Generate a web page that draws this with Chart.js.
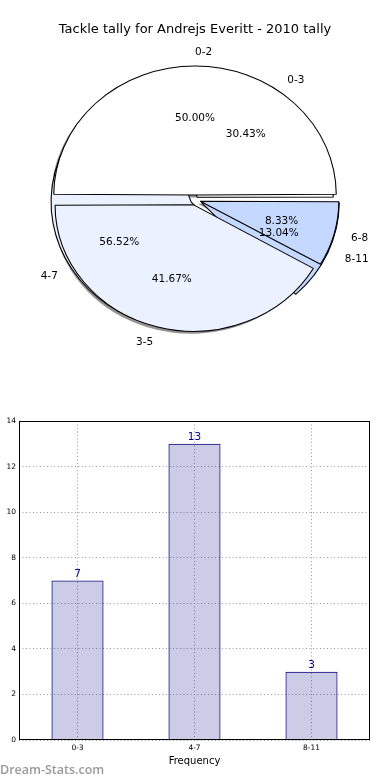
<!DOCTYPE html>
<html>
<head>
<meta charset="utf-8">
<script src="https://cdn.jsdelivr.net/npm/chart.js@4/dist/chart.umd.min.js"></script>
<style>
  body { margin: 0; background: #fff; }
  #wrap { position: relative; width: 390px; height: 780px; overflow: hidden; }
  canvas { position: absolute; left: 0; }
  #pieB, #pieA { top: 0; }
  #bars { top: 400px; }
  #mark { position: absolute; left: 0; top: 761px; font: 600 12.5px "Open Sans", sans-serif; color: #9a9a9a; }
</style>
</head>
<body>
<div id="wrap">
  <canvas id="pieB" width="390" height="400"></canvas>
  <canvas id="pieA" width="390" height="400"></canvas>
  <canvas id="bars" width="390" height="380"></canvas>
  <div id="mark">Dream-Stats.com</div>
</div>
<script>
let title = "Tackle tally for Andrejs Everitt - 2010 tally";

// pie drawn on top
let pieLabelsA = ["0-2", "3-5", "6-8"];
let pieValuesA = [6, 5, 1];

// pie drawn underneath, same numbers as the bars
let pieLabelsB = ["0-3", "4-7", "8-11"];
let pieValuesB = [7, 13, 3];

let barLabels = ["0-3", "4-7", "8-11"];
let barValues = [7, 13, 3];
let yTicks = [0, 2, 4, 6, 8, 10, 12, 14];

let sliceColors = ["#ffffff", "#ebf1ff", "#c5d8ff"];
let stretch = 1.095;   // pie is a bit wider than tall
let font = "'DejaVu Sans', sans-serif";

let pieA;
let pieB;

// chart.js goes clockwise from the top, matplotlib went anticlockwise from 3 o'clock
function rev(arr){
    return arr.slice().reverse();
}

function pieConfig(labels, values, offsets, plugins){
    return {
        type: "pie",
        data: {
            labels: rev(labels),
            datasets: [{
                data: rev(values),
                backgroundColor: rev(sliceColors),
                borderColor: "#000",
                borderWidth: 1,
                offset: rev(offsets),
                radius: 124
            }]
        },
        options: {
            responsive: false,
            animation: false,
            events: [],
            rotation: 90,
            layout: { padding: 0 },
            plugins: { legend: { display: false }, tooltip: { enabled: false } }
        },
        plugins: plugins
    };
}

let stretchPlugin = {
    id: "stretch",
    beforeDatasetsDraw(chart){
        let ctx = chart.ctx;
        let a = chart.chartArea;
        let cx = (a.left + a.right) / 2;
        ctx.save();
        ctx.translate(cx, 0);
        ctx.scale(stretch, 1);
        ctx.translate(-cx, 0);
    },
    afterDatasetsDraw(chart){
        chart.ctx.restore();
    }
};

// shadows of both pies sit under every wedge
let shadowPlugin = {
    id: "shadow",
    beforeDatasetsDraw(chart){
        let ctx = chart.ctx;
        [pieB, pieA].forEach(function(c){
            if(!c) return;
            c.getDatasetMeta(0).data.forEach(function(arc){
                let half = (arc.startAngle + arc.endAngle) / 2;
                let t = (arc.options.offset || 0) / 4;
                // chart.js grows big slices a little when they are offset
                let r = arc.outerRadius + t * (1 - Math.sin(Math.min(Math.PI, arc.circumference)));
                let x = arc.x + Math.cos(half) * t - 2.6 / stretch;
                let y = arc.y + Math.sin(half) * t + 2.4;
                ctx.beginPath();
                ctx.moveTo(x, y);
                ctx.arc(x, y, r, arc.startAngle, arc.endAngle);
                ctx.closePath();
                ctx.fillStyle = "rgba(40,40,40,0.5)";
                ctx.fill();
            });
        });
    }
};

function drawPieText(ctx, c, labels, values){
    let meta = c.getDatasetMeta(0);
    let total = values.reduce((s, v) => s + v, 0);
    let n = values.length;
    meta.data.forEach(function(arc, i){
        let k = n - 1 - i;
        let half = (arc.startAngle + arc.endAngle) / 2;
        let t = (arc.options.offset || 0) / 4;
        let dx = Math.cos(half) * stretch;
        let dy = Math.sin(half);

        let r1 = t + arc.outerRadius * 1.15;
        let lx = arc.x + dx * r1;
        ctx.textAlign = dx > -1e-6 ? "left" : "right";
        ctx.fillText(labels[k], lx, arc.y + dy * r1);

        let r2 = t + arc.outerRadius * 0.62;
        ctx.textAlign = "center";
        ctx.fillText((values[k] / total * 100).toFixed(2) + "%", arc.x + dx * r2, arc.y + dy * r2);
    });
}

let pieTextPlugin = {
    id: "pieText",
    afterDraw(chart){
        let ctx = chart.ctx;
        ctx.save();
        ctx.fillStyle = "#000";
        ctx.textBaseline = "middle";
        ctx.font = "13px " + font;
        ctx.textAlign = "center";
        ctx.fillText(title, 195, 30);
        ctx.font = "10.5px " + font;
        if(pieB) drawPieText(ctx, pieB, pieLabelsB, pieValuesB);
        drawPieText(ctx, chart, pieLabelsA, pieValuesA);
        ctx.restore();
    }
};

pieA = new Chart(document.getElementById("pieA"),
    pieConfig(pieLabelsA, pieValuesA, [20, 20, 20], [stretchPlugin, pieTextPlugin]));

// stretch has to come first so the shadows get stretched too
pieB = new Chart(document.getElementById("pieB"),
    pieConfig(pieLabelsB, pieValuesB, [14, 16, 26], [stretchPlugin, shadowPlugin]));

pieA.draw();

// bar chart
let framePlugin = {
    id: "frame",
    afterDatasetsDraw(chart){
        let ctx = chart.ctx;
        let a = chart.chartArea;
        ctx.save();
        ctx.strokeStyle = "#000";
        ctx.lineWidth = 1;
        ctx.strokeRect(a.left + 0.5, a.top + 0.5, a.right - a.left - 1, a.bottom - a.top - 1);

        // value on top of each bar
        ctx.fillStyle = "#00008b";
        ctx.font = "10.5px " + font;
        ctx.textAlign = "center";
        ctx.textBaseline = "bottom";
        chart.getDatasetMeta(0).data.forEach(function(bar, i){
            ctx.fillText(String(barValues[i]), bar.x, bar.y - 1);
        });
        ctx.restore();
    }
};

new Chart(document.getElementById("bars"), {
    type: "bar",
    data: {
        labels: barLabels,
        datasets: [{
            data: barValues,
            backgroundColor: "rgba(0,0,128,0.2)",
            borderColor: "#000080",
            borderWidth: 1,
            categoryPercentage: 1,
            barPercentage: 0.445
        }]
    },
    options: {
        responsive: false,
        animation: false,
        events: [],
        layout: { padding: { top: 21, right: 20, left: 0, bottom: 0 } },
        plugins: { legend: { display: false }, tooltip: { enabled: false } },
        scales: {
            x: {
                offset: true,
                grid: { offset: false, color: "#9a9a9a", drawTicks: false },
                border: { display: false, dash: [1, 2.5] },
                ticks: { color: "#000", font: { family: font, size: 7.5 }, padding: 4 },
                title: {
                    display: true,
                    text: "Frequency",
                    color: "#000",
                    font: { family: font, size: 10 },
                    padding: { top: 0, bottom: 13 }
                },
                afterFit(s){ s.height = 40; }
            },
            y: {
                min: yTicks[0],
                max: yTicks[yTicks.length - 1],
                grid: { color: "#9a9a9a", drawTicks: false },
                border: { display: false, dash: [1, 2.5] },
                ticks: { stepSize: 2, color: "#000", font: { family: font, size: 7.5 }, padding: 3 },
                afterFit(s){ s.width = 19; }
            }
        }
    },
    plugins: [framePlugin]
});
</script>
</body>
</html>
